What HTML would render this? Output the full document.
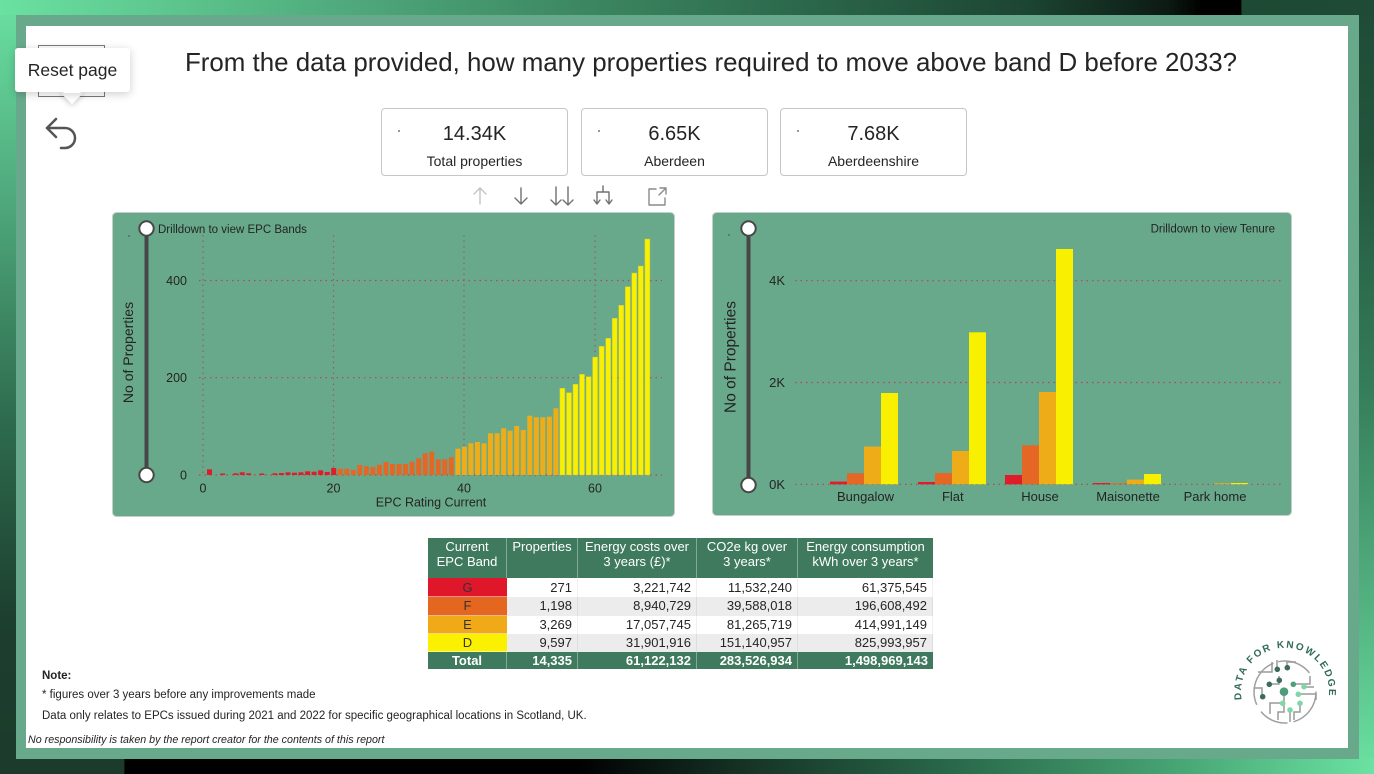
<!DOCTYPE html>
<html><head><meta charset="utf-8">
<style>
*{margin:0;padding:0;box-sizing:border-box}
html,body{width:1374px;height:774px;overflow:hidden;background:#fff;font-family:"Liberation Sans",Arial,sans-serif;color:#252423}
.a{position:absolute}
.card{position:absolute;top:108px;width:187px;height:68px;border:1px solid #c8c6c4;border-radius:4px;background:#fff}
.card .v{position:absolute;left:0;right:0;top:12px;text-align:center;font-size:20px;line-height:26px;color:#252423}
.card .l{position:absolute;left:0;right:0;top:43px;text-align:center;font-size:14px;line-height:18px;color:#252423}
.card .d{position:absolute;left:16px;top:21px;width:2px;height:2px;background:#777;border-radius:1px}
.tbl{position:absolute;left:428px;top:538px;width:505px;height:131px;display:grid;grid-template-columns:79px 71px 119px 101px 135px;grid-template-rows:40px 19px 18.5px 18.5px 18px 17px;font-size:13px}
.tbl div{overflow:hidden;white-space:nowrap}
.h{background:#3f7a5e;color:#fff;font-size:13px;line-height:14.5px;text-align:center;padding-top:2px;border-right:1px solid rgba(255,255,255,0.35);white-space:normal!important}
.n{text-align:right;padding-right:5px;border-right:1px solid rgba(0,0,0,0.06)}
.w{background:#fff}
.g{background:#ececec}
.b{text-align:center;color:#333;border-bottom:1px solid rgba(255,255,255,0.5)}
.t{background:#3f7a5e;color:#fff;font-weight:bold;text-align:right;padding-right:5px;border-right:1px solid rgba(255,255,255,0.35)}
.note{position:absolute;left:42px;font-size:11.5px;line-height:14px;color:#252423;white-space:nowrap}
</style></head><body>

<!-- outer frame -->
<div class="a" style="left:0;top:0;width:16px;height:774px;background:linear-gradient(to bottom,#6ae1a1 0%,#50aa7d 25%,#2d6a4d 55%,#1d3f2f 80%,#1c3a2b 100%)"></div>
<div class="a" style="left:1359px;top:0;width:15px;height:774px;background:linear-gradient(to bottom,#1f4b36 0%,#23553d 20%,#357d5a 50%,#55b583 80%,#6be2a2 100%)"></div>
<div class="a" style="left:0;top:0;width:1374px;height:15px;background:linear-gradient(to right,#6ae1a1 0%,#4a9f74 30%,#2f6f50 55%,#1c4432 75%,#0c1a13 85%,#000 87.5%,#000 90.3%,#1e4934 90.4%,#1f4b36 100%)"></div>
<div class="a" style="left:0;top:759px;width:1374px;height:15px;background:linear-gradient(to right,#1d3b2c 0%,#1d3b2c 9%,#000 9.1%,#000 42%,#173628 55%,#2a6b4c 70%,#46a272 85%,#6be2a2 100%)"></div>
<div class="a" style="left:16px;top:15px;width:1343px;height:744px;background:#68a98c"></div>
<div class="a" style="left:26px;top:26px;width:1322px;height:722px;background:#fff"></div>

<!-- title -->
<div class="a" style="left:111px;top:47px;width:1200px;text-align:center;font-size:25.9px;line-height:32px;color:#252423;white-space:nowrap">From the data provided, how many properties required to move above band D before 2033?</div>

<!-- reset page button + tooltip -->
<div class="a" style="left:38px;top:45px;width:67px;height:52px;border:1.5px solid #7a7a7a;background:#fff"></div>
<div class="a" style="left:64px;top:85px;width:16px;height:16px;background:#fff;transform:rotate(45deg);box-shadow:1px 1px 6px rgba(0,0,0,0.22)"></div>
<div class="a" style="left:15px;top:48px;width:115px;height:44px;background:#fff;border-radius:3px;box-shadow:0 2px 9px rgba(0,0,0,0.2);font-size:17.5px;line-height:44px;text-align:center;color:#252423">Reset page</div>
<div class="a" style="left:64px;top:84px;width:16px;height:9px;background:#fff"></div>

<!-- KPI cards -->
<div class="card" style="left:381px"><div class="d"></div><div class="v">14.34K</div><div class="l">Total properties</div></div>
<div class="card" style="left:581px"><div class="d"></div><div class="v">6.65K</div><div class="l">Aberdeen</div></div>
<div class="card" style="left:780px"><div class="d"></div><div class="v">7.68K</div><div class="l">Aberdeenshire</div></div>

<svg class="a" style="left:0;top:0" width="1374" height="774" viewBox="0 0 1374 774" font-family="Liberation Sans, Arial, sans-serif">
  <!-- undo icon -->
  <g fill="none" stroke="#555" stroke-width="2.5" stroke-linecap="round" stroke-linejoin="round">
    <path d="M56 119 L47 128 L56 137"/>
    <path d="M47 128 H65 A10 10 0 0 1 65 148 H61"/>
  </g>
  <!-- visual header icons -->
  <g fill="none" stroke-width="1.4" stroke-linecap="round" stroke-linejoin="round">
    <g stroke="#c4c4c4"><path d="M480 188 V204 M474 194 L480 188 L486 194"/></g>
    <g stroke="#707070"><path d="M521 188 V204 M515 198 L521 204 L527 198"/></g>
    <g stroke="#707070"><path d="M556 187 V205 M551 200 L556 205 L561 200 M568 187 V205 M563 200 L568 205 L573 200"/></g>
    <g stroke="#707070"><path d="M603 186 V192 M597 192 H609 M597 192 V204 M609 192 V204 M594 200 L597 204 L600 200 M606 200 L609 204 L612 200"/></g>
    <g stroke="#8a8a8a"><path d="M656 189 H649 V205 H665 V198 M659 195 L666 188 M660 188 H666 V194"/></g>
  </g>

  <!-- LEFT CHART -->
  <rect x="112.5" y="212.5" width="562" height="304" rx="4" fill="#68a98c" stroke="#c5cfca"/>
  <g stroke="#b5464b" stroke-width="1.2" stroke-dasharray="1.5 4" fill="none">
    <path d="M199 280.5 H662 M199 377.7 H662 M199 475 H662"/>
    <path d="M203 235 V475 M333.5 235 V475 M464 235 V475 M595 235 V475" stroke="#9e5a5c"/>
  </g>
  <g fill="#e01b2a">
    <rect x="207" y="469.3" width="5" height="5.7"/>
    <rect x="220.1" y="473.5" width="5" height="1.5"/>
    <rect x="233.2" y="473.3" width="5" height="1.7"/>
    <rect x="239.7" y="472.3" width="5" height="2.7"/>
    <rect x="246.2" y="473.3" width="5" height="1.7"/>
    <rect x="259.3" y="473.5" width="5" height="1.5"/>
    <rect x="272.4" y="473.3" width="5" height="1.7"/>
    <rect x="278.9" y="473" width="5" height="2"/>
    <rect x="285.5" y="472.3" width="5" height="2.7"/>
    <rect x="292" y="472.7" width="5" height="2.3"/>
    <rect x="298.5" y="472.3" width="5" height="2.7"/>
    <rect x="305.1" y="471.3" width="5" height="3.7"/>
    <rect x="311.6" y="471.7" width="5" height="3.3"/>
    <rect x="318.1" y="470.3" width="5" height="4.7"/>
    <rect x="324.7" y="472" width="5" height="3"/>
    <rect x="331.2" y="468" width="5" height="7"/>
  </g>
  <g fill="#e46725">
    <rect x="337.7" y="468.7" width="5" height="6.3"/>
    <rect x="344.3" y="468.7" width="5" height="6.3"/>
    <rect x="350.8" y="470" width="5" height="5"/>
    <rect x="357.3" y="465" width="5" height="10"/>
    <rect x="363.9" y="466.3" width="5" height="8.7"/>
    <rect x="370.4" y="467" width="5" height="8"/>
    <rect x="376.9" y="464.7" width="5" height="10.3"/>
    <rect x="383.5" y="462" width="5" height="13"/>
    <rect x="390" y="464" width="5" height="11"/>
    <rect x="396.6" y="464" width="5" height="11"/>
    <rect x="403.1" y="464" width="5" height="11"/>
    <rect x="409.6" y="461.7" width="5" height="13.3"/>
    <rect x="416.2" y="458.3" width="5" height="16.7"/>
    <rect x="422.7" y="453.3" width="5" height="21.7"/>
    <rect x="429.2" y="451.7" width="5" height="23.3"/>
    <rect x="435.8" y="459.3" width="5" height="15.7"/>
    <rect x="442.3" y="459.3" width="5" height="15.7"/>
    <rect x="448.8" y="457.3" width="5" height="17.7"/>
  </g>
  <g fill="#eead18">
    <rect x="455.4" y="448.7" width="5" height="26.3"/>
    <rect x="461.9" y="446.7" width="5" height="28.3"/>
    <rect x="468.4" y="443.3" width="5" height="31.7"/>
    <rect x="475" y="442" width="5" height="33"/>
    <rect x="481.5" y="443.3" width="5" height="31.7"/>
    <rect x="488" y="433.3" width="5" height="41.7"/>
    <rect x="494.6" y="433.3" width="5" height="41.7"/>
    <rect x="501.1" y="428.3" width="5" height="46.7"/>
    <rect x="507.6" y="430.7" width="5" height="44.3"/>
    <rect x="514.2" y="426" width="5" height="49"/>
    <rect x="520.7" y="430" width="5" height="45"/>
    <rect x="527.3" y="415.7" width="5" height="59.3"/>
    <rect x="533.8" y="417.3" width="5" height="57.7"/>
    <rect x="540.3" y="417.3" width="5" height="57.7"/>
    <rect x="546.9" y="416.7" width="5" height="58.3"/>
    <rect x="553.4" y="408.3" width="5" height="66.7"/>
  </g>
  <g fill="#f9ef00" stroke="#c8c83c" stroke-width="0.5">
    <rect x="559.9" y="388.3" width="5" height="86.7"/>
    <rect x="566.5" y="392.7" width="5" height="82.3"/>
    <rect x="573" y="384.3" width="5" height="90.7"/>
    <rect x="579.5" y="374.3" width="5" height="100.7"/>
    <rect x="586.1" y="376.7" width="5" height="98.3"/>
    <rect x="592.6" y="357" width="5" height="118"/>
    <rect x="599.1" y="346.3" width="5" height="128.7"/>
    <rect x="605.7" y="338.3" width="5" height="136.7"/>
    <rect x="612.2" y="318.3" width="5" height="156.7"/>
    <rect x="618.7" y="305.3" width="5" height="169.7"/>
    <rect x="625.3" y="286.7" width="5" height="188.3"/>
    <rect x="631.8" y="273" width="5" height="202"/>
    <rect x="638.3" y="266" width="5" height="209"/>
    <rect x="644.9" y="239" width="5" height="236"/>
  </g>
  <!-- left slider -->
  <rect x="144.5" y="228" width="4" height="247" fill="#474747"/>
  <circle cx="146.5" cy="228.5" r="7.2" fill="#fff" stroke="#474747" stroke-width="2"/>
  <circle cx="146.5" cy="475" r="7.2" fill="#fff" stroke="#474747" stroke-width="2"/>
  <circle cx="129" cy="236" r="1" fill="#666"/>
  <g fill="#252423">
    <text x="158" y="233" font-size="11.5">Drilldown to view EPC Bands</text>
    <text transform="translate(133,352.5) rotate(-90)" text-anchor="middle" font-size="14">No of Properties</text>
    <g font-size="12.5" text-anchor="end">
      <text x="187" y="285">400</text>
      <text x="187" y="382">200</text>
      <text x="187" y="479.5">0</text>
    </g>
    <g font-size="12.5" text-anchor="middle">
      <text x="203" y="492.5">0</text>
      <text x="333.5" y="492.5">20</text>
      <text x="464" y="492.5">40</text>
      <text x="595" y="492.5">60</text>
      <text x="431" y="506.5">EPC Rating Current</text>
    </g>
  </g>

  <!-- RIGHT CHART -->
  <rect x="712.5" y="212.5" width="579" height="303" rx="4" fill="#68a98c" stroke="#c5cfca"/>
  <g stroke="#b5464b" stroke-width="1.2" stroke-dasharray="1.5 4" fill="none">
    <path d="M795 280.7 H1283 M795 382.5 H1283 M795 484.3 H1283"/>
  </g>
  <g>
    <rect x="830" y="481.6" width="17" height="2.7" fill="#e01b2a"/>
    <rect x="847" y="473.3" width="17" height="11" fill="#e46725"/>
    <rect x="864" y="446.6" width="17" height="37.7" fill="#eead18"/>
    <rect x="881" y="393" width="17" height="91.3" fill="#f9ef00"/>

    <rect x="918" y="482" width="17" height="2.3" fill="#e01b2a"/>
    <rect x="935" y="473" width="17" height="11.3" fill="#e46725"/>
    <rect x="952" y="451" width="17" height="33.3" fill="#eead18"/>
    <rect x="969" y="332.3" width="17" height="152" fill="#f9ef00"/>

    <rect x="1005" y="475" width="17" height="9.3" fill="#e01b2a"/>
    <rect x="1022" y="445.3" width="17" height="39" fill="#e46725"/>
    <rect x="1039" y="392" width="17" height="92.3" fill="#eead18"/>
    <rect x="1056" y="249" width="17" height="235.3" fill="#f9ef00"/>

    <rect x="1093" y="483" width="17" height="1.3" fill="#e01b2a"/>
    <rect x="1110" y="483.3" width="17" height="1" fill="#e46725"/>
    <rect x="1127" y="479.6" width="17" height="4.7" fill="#eead18"/>
    <rect x="1144" y="474" width="17" height="10.3" fill="#f9ef00"/>

    <rect x="1214" y="483.3" width="17" height="1" fill="#eead18"/>
    <rect x="1231" y="483" width="17" height="1.3" fill="#f9ef00"/>
  </g>
  <rect x="746.5" y="228" width="4" height="257" fill="#474747"/>
  <circle cx="748.5" cy="228.5" r="7.2" fill="#fff" stroke="#474747" stroke-width="2"/>
  <circle cx="748.5" cy="485" r="7.2" fill="#fff" stroke="#474747" stroke-width="2"/>
  <circle cx="729" cy="235" r="1" fill="#666"/>
  <g fill="#252423">
    <text x="1275" y="232.7" font-size="11.5" text-anchor="end">Drilldown to view Tenure</text>
    <text transform="translate(735.5,357) rotate(-90)" text-anchor="middle" font-size="15.5">No of Properties</text>
    <g font-size="13" text-anchor="end">
      <text x="785" y="285.2">4K</text>
      <text x="785" y="387.2">2K</text>
      <text x="785" y="488.8">0K</text>
    </g>
    <g font-size="13" text-anchor="middle">
      <text x="865.5" y="501.2">Bungalow</text>
      <text x="952.8" y="501.2">Flat</text>
      <text x="1040" y="501.2">House</text>
      <text x="1128" y="501.2">Maisonette</text>
      <text x="1215" y="501.2">Park home</text>
    </g>
  </g>

  <!-- LOGO -->
  <defs>
    <path id="arc" d="M1241.7 699.6 A44 44 0 1 1 1328.3 699.6"/>
  </defs>
  <text font-size="10" font-weight="bold" fill="#2f6b55" letter-spacing="1.8"><textPath href="#arc">DATA FOR KNOWLEDGE</textPath></text>
  <circle cx="1285" cy="692" r="31" fill="none" stroke="#a0a0a0" stroke-width="1.5" stroke-dasharray="40 6 30 8 50 5 35 20"/>
  <g fill="none" stroke="#9a9a9a" stroke-width="1.5">
    <path d="M1258 672 H1272 V662"/>
    <path d="M1262 697 V688 H1254"/>
    <path d="M1269 684 H1279 V676"/>
    <path d="M1277 669 V660"/>
    <path d="M1287 668 V662 H1296"/>
    <path d="M1293 684 H1310 V676"/>
    <path d="M1304 687 H1314"/>
    <path d="M1298 694 H1316 V700"/>
    <path d="M1284 692 V712 H1278 V720"/>
    <path d="M1282 703 H1270 V714"/>
    <path d="M1300 703 V712 H1294 V720"/>
    <path d="M1290 710 V722"/>
  </g>
  <g>
    <circle cx="1277.3" cy="669.3" r="2.8" fill="#3d6b5c"/>
    <circle cx="1287.3" cy="667.7" r="2.8" fill="#3d6b5c"/>
    <circle cx="1269.3" cy="684.3" r="2.8" fill="#3d6b5c"/>
    <circle cx="1279.3" cy="680.3" r="2.8" fill="#3d6b5c"/>
    <circle cx="1262.7" cy="696.7" r="2.8" fill="#3d6b5c"/>
    <circle cx="1293.3" cy="684.3" r="2.8" fill="#4e9c7a"/>
    <circle cx="1284" cy="691.7" r="4.3" fill="#4e9c7a"/>
    <circle cx="1304" cy="686.7" r="2.8" fill="#7fd6a6"/>
    <circle cx="1298.3" cy="694.3" r="2.8" fill="#7fd6a6"/>
    <circle cx="1282.7" cy="703.3" r="2.8" fill="#7fd6a6"/>
    <circle cx="1300" cy="703.3" r="2.8" fill="#7fd6a6"/>
    <circle cx="1290" cy="710" r="2.8" fill="#7fd6a6"/>
  </g>
</svg>

<!-- TABLE -->
<div class="tbl">
  <div class="h">Current<br>EPC Band</div>
  <div class="h">Properties</div>
  <div class="h">Energy costs over<br>3 years (£)*</div>
  <div class="h">CO2e kg over<br>3 years*</div>
  <div class="h" style="border-right:none">Energy consumption<br>kWh over 3 years*</div>

  <div class="b" style="background:#e0162b;line-height:19px">G</div>
  <div class="n w" style="line-height:19px">271</div>
  <div class="n w" style="line-height:19px">3,221,742</div>
  <div class="n w" style="line-height:19px">11,532,240</div>
  <div class="n w" style="line-height:19px">61,375,545</div>

  <div class="b" style="background:#e5671f;line-height:18.5px">F</div>
  <div class="n g" style="line-height:18.5px">1,198</div>
  <div class="n g" style="line-height:18.5px">8,940,729</div>
  <div class="n g" style="line-height:18.5px">39,588,018</div>
  <div class="n g" style="line-height:18.5px">196,608,492</div>

  <div class="b" style="background:#f0aa17;line-height:18.5px">E</div>
  <div class="n w" style="line-height:18.5px">3,269</div>
  <div class="n w" style="line-height:18.5px">17,057,745</div>
  <div class="n w" style="line-height:18.5px">81,265,719</div>
  <div class="n w" style="line-height:18.5px">414,991,149</div>

  <div class="b" style="background:#fbf000;line-height:18px">D</div>
  <div class="n g" style="line-height:18px">9,597</div>
  <div class="n g" style="line-height:18px">31,901,916</div>
  <div class="n g" style="line-height:18px">151,140,957</div>
  <div class="n g" style="line-height:18px">825,993,957</div>

  <div class="t" style="text-align:center;padding-right:0;line-height:17px">Total</div>
  <div class="t" style="line-height:17px">14,335</div>
  <div class="t" style="line-height:17px">61,122,132</div>
  <div class="t" style="line-height:17px">283,526,934</div>
  <div class="t" style="line-height:17px;border-right:none">1,498,969,143</div>
</div>

<!-- notes -->
<div class="note" style="top:669px;font-weight:bold">Note:</div>
<div class="note" style="top:688px">* figures over 3 years before any improvements made</div>
<div class="note" style="top:709px">Data only relates to EPCs issued during 2021 and 2022 for specific geographical locations in Scotland, UK.</div>
<div class="a" style="left:28px;top:733px;font-size:10.7px;line-height:14px;font-style:italic;color:#252423;white-space:nowrap">No responsibility is taken by the report creator for the contents of this report</div>

</body></html>
